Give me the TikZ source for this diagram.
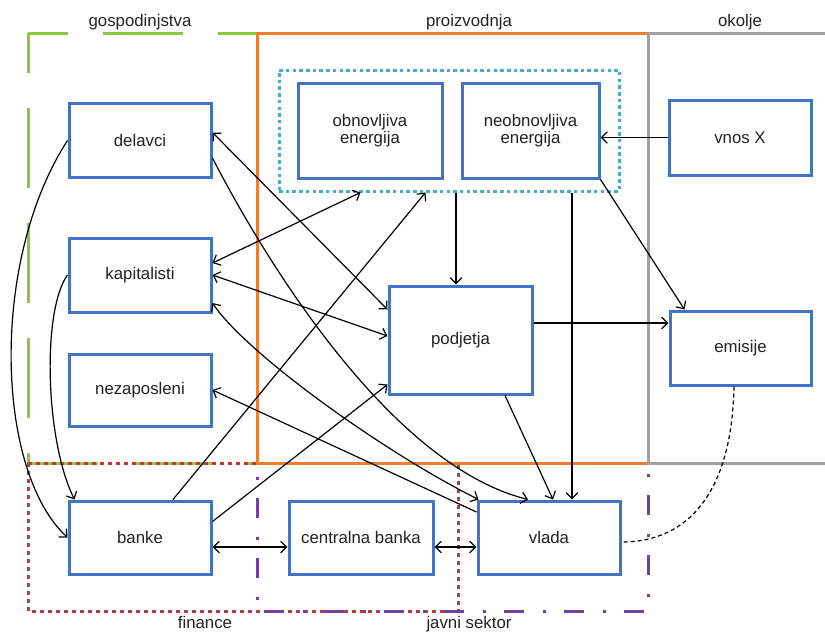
\documentclass[tikz,border=0pt]{standalone}
\usepackage{fontspec}
\setmainfont{Liberation Sans}
\usetikzlibrary{arrows.meta}

\definecolor{boxblue}{RGB}{68,114,196}
\definecolor{hhgreen}{RGB}{141,198,63}
\definecolor{prodorange}{RGB}{237,125,49}
\definecolor{envgray}{RGB}{160,160,160}
\definecolor{finred}{RGB}{192,57,60}
\definecolor{pubpurple}{RGB}{112,64,160}
\definecolor{energyblue}{RGB}{75,172,198}
\definecolor{txt}{RGB}{34,34,34}

\tikzset{
  lbl/.style={text=txt, font=\fontsize{16.8}{18}\selectfont, inner sep=0pt},
  box/.style={draw=boxblue, line width=3pt, fill=white, align=center,
              text=txt, font=\fontsize{16.8}{17.5}\selectfont,
              minimum width=142pt, minimum height=74pt, inner sep=2pt},
  energybox/.style={draw=energyblue, line width=3pt, dash pattern=on 3.5pt off 3.2pt},
  hhline/.style={draw=hhgreen, line width=3pt, dash pattern=on 80pt off 35pt, dash phase=40pt},
  prodline/.style={draw=prodorange, line width=3pt},
  envline/.style={draw=envgray, line width=3pt},
  finline/.style={draw=finred, line width=3pt, dash pattern=on 4pt off 4pt},
  publine/.style={draw=pubpurple, line width=3pt, dash pattern=on 20pt off 18.5pt on 3pt off 18.5pt, dash phase=25pt},
  tip/.tip={Straight Barb[length=6pt,width=11.5pt]},
  conn/.style={draw=black, line width=1.2pt, -tip},
  conn2/.style={draw=black, line width=1.2pt, tip-tip},
  connback/.style={draw=black, line width=1.2pt, tip-},
  linkdash/.style={draw=black, line width=1.2pt, dash pattern=on 4pt off 3pt}
}

\begin{document}
\begin{tikzpicture}[x=1pt, y=-1pt]
\useasboundingbox (0,0) rectangle (825,633);

% sector frames
\draw[hhline] (28,33) -- (257,33);
\draw[hhline] (28,33) -- (28,463) -- (257,463);
\draw[finline] (28,463) rectangle (458,611);
\draw[publine] (257,463) -- (257,611) -- (648,611) -- (648,463);
\draw[prodline] (257,33) rectangle (648,463);
\draw[envline] (826,33) -- (648,33) -- (648,463) -- (826,463);

% sector titles
\node[lbl, anchor=base] (tgosp) at (140,26) {gospodinjstva};
\node[lbl, anchor=base] (tproiz) at (469,26) {proizvodnja};
\node[lbl, anchor=base] (tokol) at (740,26) {okolje};
\node[lbl, anchor=base] (tfin) at (205,628) {finance};
\node[lbl, anchor=base] (tjav) at (469,628) {javni sektor};

% energy group
\node[energybox, minimum width=340pt, minimum height=121pt] (energija) at (449,130.5) {};

% agents
\node[box] (delavci) at (140,140.5) {delavci};
\node[box] (kapitalisti) at (140,275) {kapitalisti};
\node[box, minimum height=72pt] (nezaposleni) at (140,390) {nezaposleni};
\node[box, minimum width=144pt, minimum height=95pt] (obn) at (370,130.5) {obnovljiva\\energija};
\node[box, minimum width=137pt, minimum height=95pt] (neo) at (530.5,130.5) {neobnovljiva\\energija};
\node[box, minimum height=75pt] (vnos) at (740,137.5) {vnos X};
\node[box, minimum width=143pt, minimum height=108pt] (podjetja) at (460.5,340) {podjetja};
\node[box, minimum width=141pt] (emisije) at (740.5,348) {emisije};
\node[box, minimum height=73pt] (banke) at (140,537.5) {banke};
\node[box, minimum width=144pt, minimum height=73pt] (centralna) at (361,537.5) {centralna banka};
\node[box, minimum height=73pt] (vlada) at (549,537.5) {vlada};

% flows
\draw[conn] (vnos.west) -- (vnos.west -| neo.east);
\draw[conn] (neo.south east) -- ([xshift=16pt]emisije.north west);
\coordinate (e1) at ([yshift=17pt]podjetja.east);
\draw[conn] (e1) -- (e1 -| emisije.west);
\coordinate (p1) at ([xshift=-4.5pt]podjetja.north);
\draw[conn] (p1 |- energija.south) -- (p1);
\coordinate (v1) at ([xshift=23pt]vlada.north);
\draw[conn] (v1 |- energija.south) -- (v1);
\draw[conn] ([xshift=44.5pt]podjetja.south) -- ([xshift=4pt]vlada.north);
\draw[linkdash] ([xshift=-6.5pt]emisije.south) .. controls (732,490) and (690,542) .. ([yshift=-4.5pt]vlada.east);

\draw[conn2] ([yshift=8pt]delavci.east) -- ([yshift=-25pt]podjetja.north west);
\draw[conn] ([yshift=-17.5pt]delavci.east) .. controls (265,260) and (390,465) .. ([xshift=-21pt]vlada.north);
\draw[conn2] ([yshift=12pt]kapitalisti.east) -- ([xshift=83pt]energija.south west);
\draw[conn2] (kapitalisti.east) -- ([yshift=4pt]podjetja.west);
\draw[conn2] ([yshift=-28pt]kapitalisti.east) .. controls (245,352) and (380,450) .. ([xshift=2pt]vlada.north west);
\draw[connback] (nezaposleni.east) -- ([yshift=25.5pt]vlada.west);

\draw[conn] ([xshift=33pt]banke.north) -- ([xshift=148pt]energija.south west);
\draw[conn] ([yshift=16pt]banke.east) -- ([yshift=11pt]podjetja.south west);
\draw[conn2] ([yshift=-9.5pt]banke.east) -- ([yshift=-9.5pt]centralna.west);
\draw[conn2] ([yshift=-9.5pt]centralna.east) -- ([yshift=-9.5pt]vlada.west);

\draw[conn] (delavci.west) .. controls (-10,260) and (-5,470) .. (banke.west);
\draw[conn] (kapitalisti.west) .. controls (42,310) and (45,440) .. ([xshift=7pt]banke.north west);
\end{tikzpicture}
\end{document}
